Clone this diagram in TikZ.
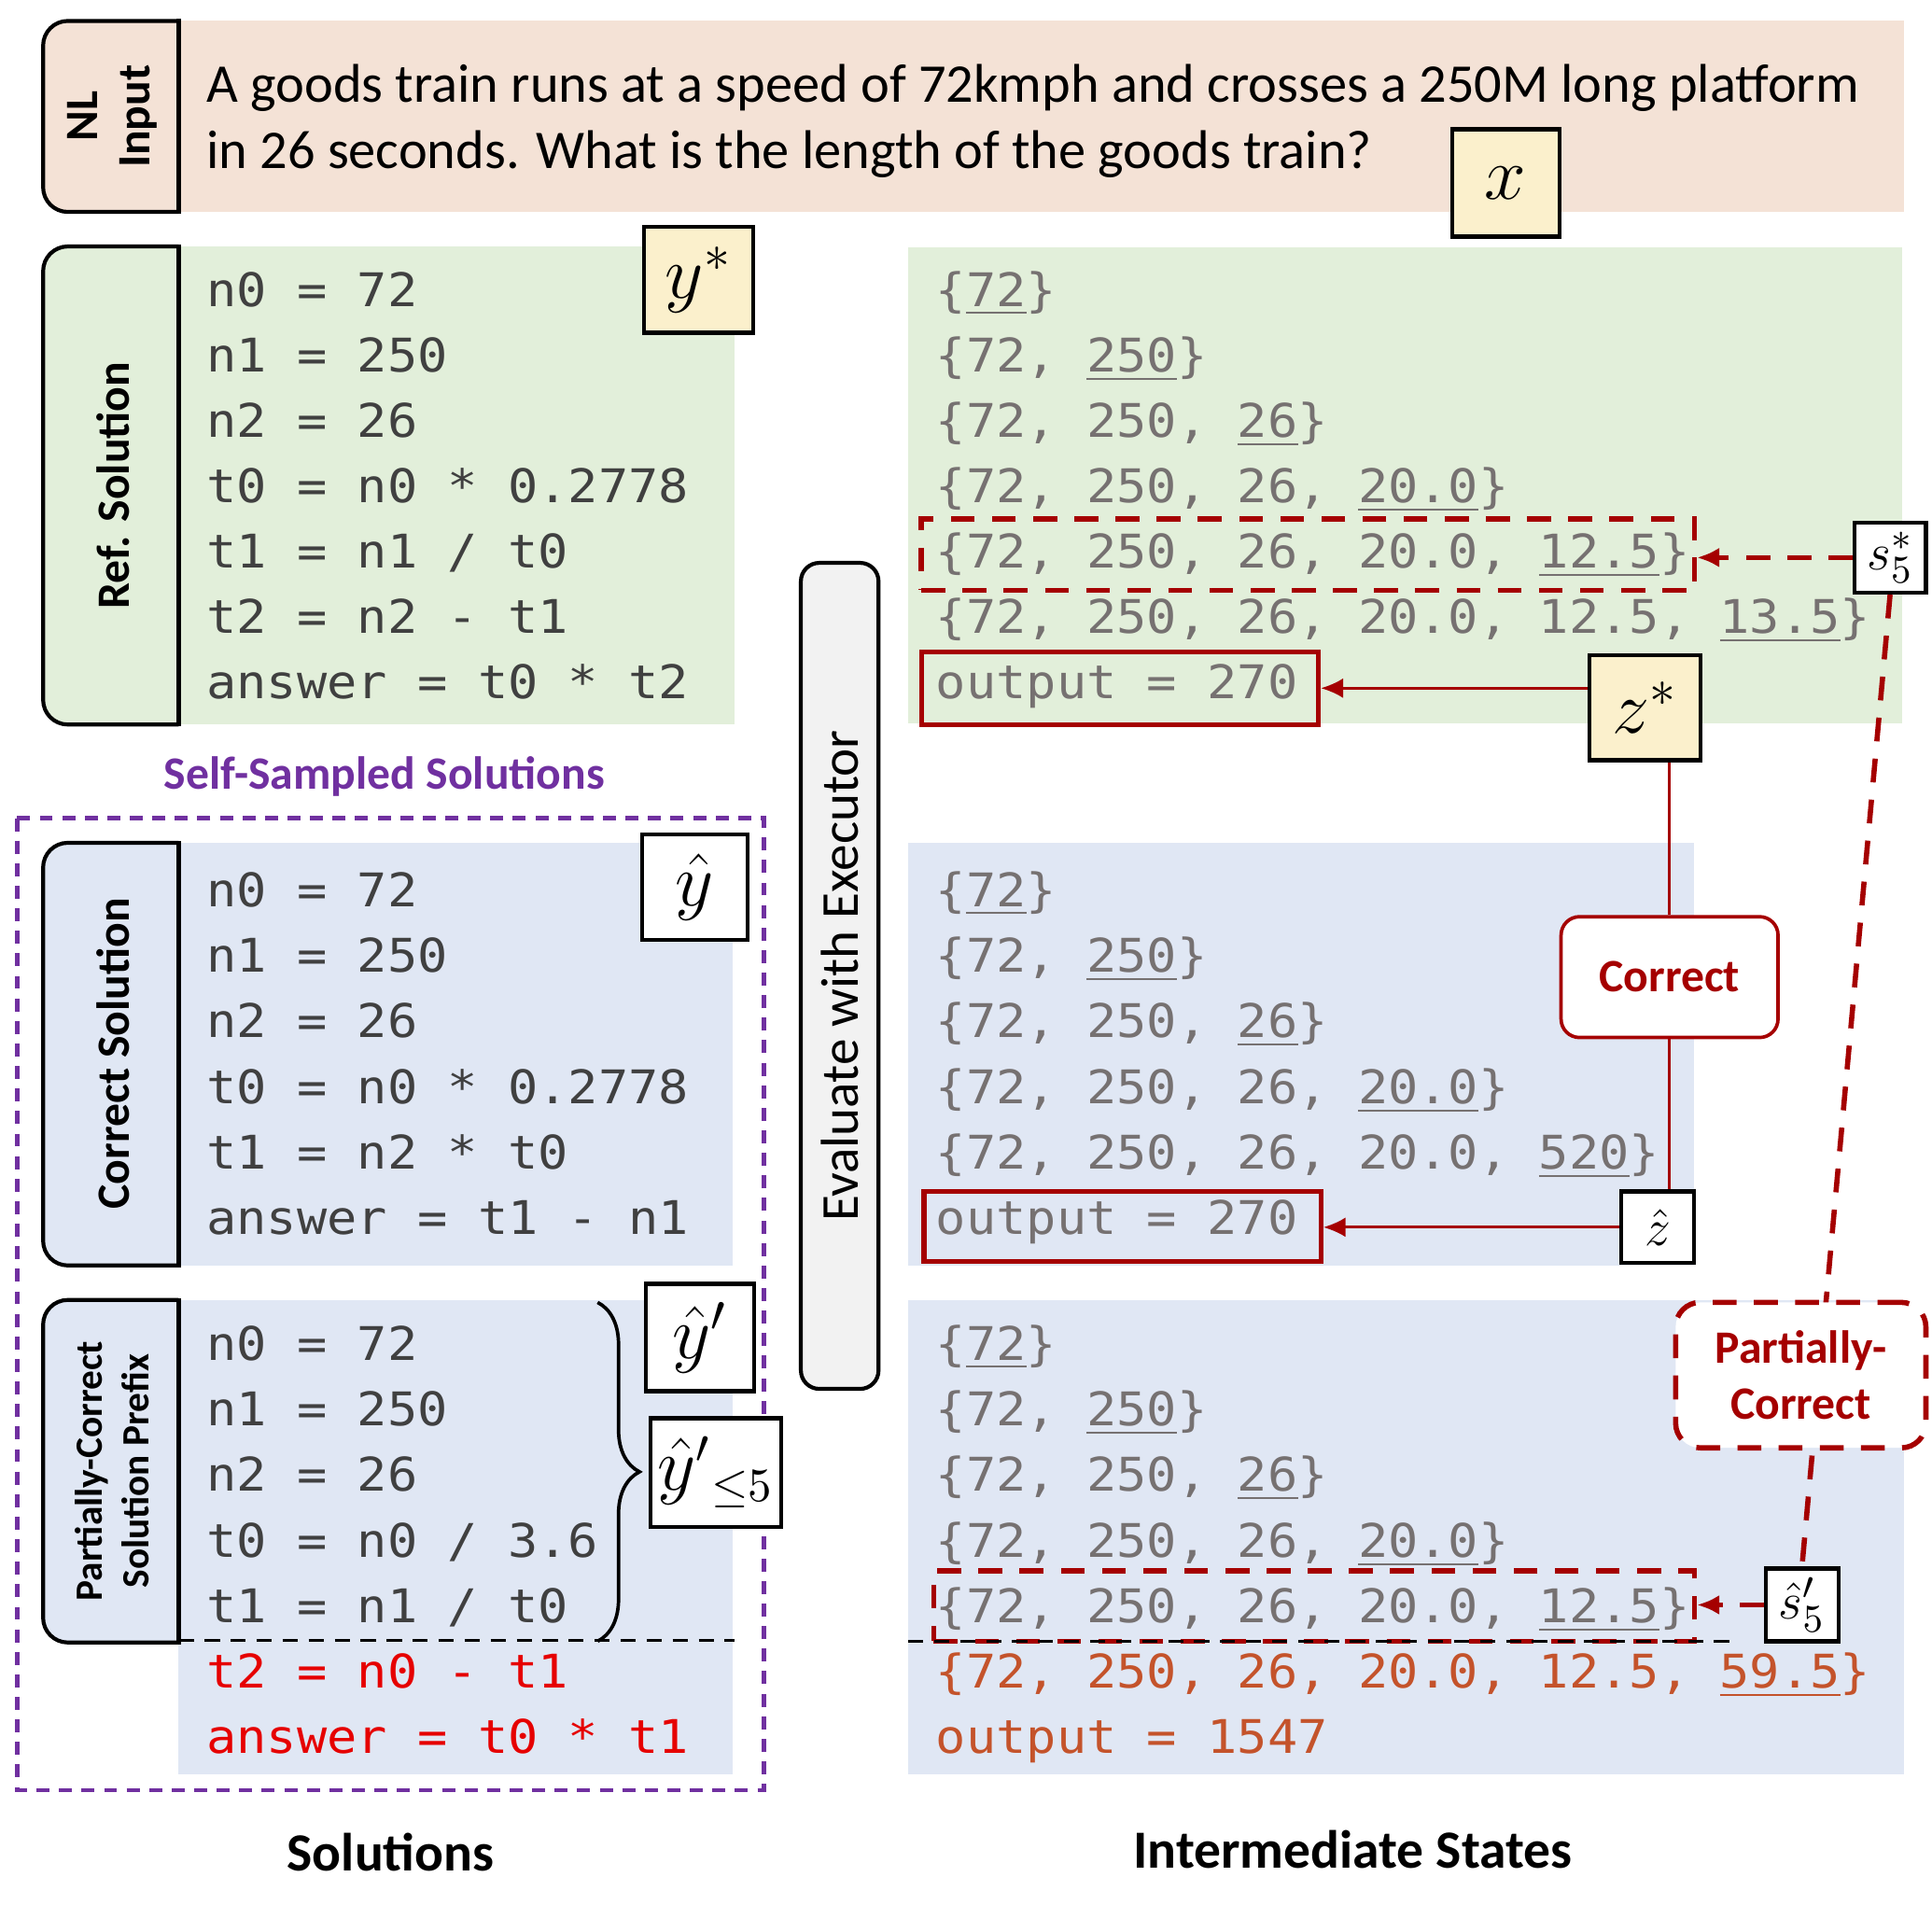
\documentclass[tikz,border=0pt]{standalone}
\usepackage{fontspec}
\setmainfont{Carlito}
\setmonofont[FakeStretch=1.08]{DejaVu Sans Mono}
\usetikzlibrary{arrows.meta, positioning, decorations.pathreplacing}

\definecolor{peach}{HTML}{F4E2D6}
\definecolor{lgreen}{HTML}{E2EFDA}
\definecolor{lblue}{HTML}{E0E7F4}
\definecolor{lyellow}{HTML}{FBF0CC}
\definecolor{dred}{HTML}{A50000}
\definecolor{codegray}{HTML}{404040}
\definecolor{stategray}{HTML}{767171}
\definecolor{errred}{HTML}{E60000}
\definecolor{errorange}{HTML}{C4532B}
\definecolor{ppurple}{HTML}{7030A0}
\definecolor{evalgray}{HTML}{F2F2F2}

\newcommand{\codefont}{\fontsize{10.7}{12}\ttfamily}

\begin{document}
\begin{tikzpicture}[x=0.01cm, y=-0.01cm,
  code/.style={anchor=base west, inner sep=0pt, font=\codefont, text=codegray},
  state/.style={anchor=base west, inner sep=0pt, font=\codefont, text=stategray},
  tabline/.style={line width=0.9pt, rounded corners=0.2cm},
  tablabel/.style={rotate=90, align=center, inner sep=0pt, font=\fontsize{10.7}{12}\selectfont\bfseries},
  symbox/.style={draw=black, line width=0.9pt, inner sep=0pt, font=\fontsize{18}{20}\selectfont},
  smallbox/.style={symbox, fill=white, font=\fontsize{13}{15}\selectfont},
  redline/.style={draw=dred, line width=0.6pt},
  redarrow/.style={redline, -{Latex[length=0.18cm, width=0.16cm]}},
  reddash/.style={draw=dred, line width=1.2pt, dash pattern=on 5.5pt off 4pt},
  pickbox/.style={reddash, inner sep=0pt},
  outbox/.style={draw=dred, line width=1.1pt, inner sep=0pt},
  sepline/.style={draw=black, line width=0.6pt, dash pattern=on 3.5pt off 2.5pt},
  headlabel/.style={inner sep=0pt, font=\fontsize{12.4}{14}\selectfont\bfseries}
]
\useasboundingbox (0,0) rectangle (1568,1546);

% 底色块
\fill[peach] (145,17) rectangle (1545,172);
\fill[lgreen] (145,200) rectangle (596,588);
\fill[lblue] (145,684) rectangle (595,1027);
\fill[lblue] (145,1055) rectangle (595,1440);
\fill[lgreen] (737,201) rectangle (1544,587);
\fill[lblue] (737,684) rectangle (1375,1027);
\fill[lblue] (737,1055) rectangle (1545,1440);

% 左侧标签页（只有左边两个角是圆的）
\filldraw[tabline, fill=peach] (145,17) -- (35,17) -- (35,172) -- (145,172);
\draw[line width=0.9pt, line cap=rect] (145,17) -- (145,172);
\filldraw[tabline, fill=lgreen] (145,200) -- (35,200) -- (35,588) -- (145,588);
\draw[line width=0.9pt, line cap=rect] (145,200) -- (145,588);
\filldraw[tabline, fill=lblue] (145,684) -- (35,684) -- (35,1027) -- (145,1027);
\draw[line width=0.9pt, line cap=rect] (145,684) -- (145,1027);
\filldraw[tabline, fill=lblue] (145,1055) -- (35,1055) -- (35,1333) -- (145,1333);
\draw[line width=0.9pt, line cap=rect] (145,1055) -- (145,1333);

\node[tablabel] (nllabel) at (91,94.5) {NL\\Input};
\node[tablabel] (reflabel) at (92,394) {Ref. Solution};
\node[tablabel] (corlabel) at (92,855) {Correct Solution};
\node[tablabel, font=\fontsize{8.9}{10.8}\selectfont\bfseries] (parlabel) at (91,1194) {Partially-Correct\\Solution Prefix};

% 题目文本
\node[anchor=base west, inner sep=0pt, font=\fontsize{12.58}{14}\selectfont] (nl1) at (167,83)
  {A goods train runs at a speed of 72kmph and crosses a 250M long platform};
\node[anchor=base west, inner sep=0pt, font=\fontsize{12.58}{14}\selectfont] (nl2) at (167,137)
  {in 26 seconds. What is the length of the goods train?};

% 执行器
\node[draw=black, line width=0.9pt, fill=evalgray, rounded corners=0.15cm, rotate=90,
  minimum width=6.70cm, minimum height=0.63cm, inner sep=0pt,
  font=\fontsize{12.3}{14}\selectfont] (eval) at (681.5,792) {Evaluate with Executor};

% 自采样解的虚线框
\node[inner sep=0pt, text=ppurple, font=\fontsize{10.7}{12}\selectfont\bfseries] (selflabel) at (312,630) {Self-Sampled Solutions};
\draw[ppurple, line width=0.9pt, dash pattern=on 3pt off 2.2pt] (14,664) rectangle (620,1453);

% 参考解
\node[code] (r1) at (167,249) {n0 = 72};
\node[code] (r2) at (167,302) {n1 = 250};
\node[code] (r3) at (167,355) {n2 = 26};
\node[code] (r4) at (167,408) {t0 = n0 * 0.2778};
\node[code] (r5) at (167,461) {t1 = n1 / t0};
\node[code] (r6) at (167,514) {t2 = n2 - t1};
\node[code] (r7) at (167,567) {answer = t0 * t2};

% 正确解
\node[code] (c1) at (167,736) {n0 = 72};
\node[code] (c2) at (167,789) {n1 = 250};
\node[code] (c3) at (167,842) {n2 = 26};
\node[code] (c4) at (167,896) {t0 = n0 * 0.2778};
\node[code] (c5) at (167,949) {t1 = n2 * t0};
\node[code] (c6) at (167,1002) {answer = t1 - n1};

% 部分正确解（最后两行为红色）
\node[code] (p1) at (167,1104) {n0 = 72};
\node[code] (p2) at (167,1157) {n1 = 250};
\node[code] (p3) at (167,1210) {n2 = 26};
\node[code] (p4) at (167,1264) {t0 = n0 / 3.6};
\node[code] (p5) at (167,1317) {t1 = n1 / t0};
\node[code, text=errred] (p6) at (167,1370) {t2 = n0 - t1};
\node[code, text=errred] (p7) at (167,1423) {answer = t0 * t1};

% 中间状态：参考解
\node[state] (g1) at (759,249) {\{\underline{72}\}};
\node[state] (g2) at (759,302) {\{72, \underline{250}\}};
\node[state] (g3) at (759,355) {\{72, 250, \underline{26}\}};
\node[state] (g4) at (759,408) {\{72, 250, 26, \underline{20.0}\}};
\node[state] (g5) at (759,461) {\{72, 250, 26, 20.0, \underline{12.5}\}};
\node[state] (g6) at (759,514) {\{72, 250, 26, 20.0, 12.5, \underline{13.5}\}};
\node[state] (g7) at (759,567) {output = 270};

% 中间状态：正确解
\node[state] (b1) at (759,736) {\{\underline{72}\}};
\node[state] (b2) at (759,789) {\{72, \underline{250}\}};
\node[state] (b3) at (759,842) {\{72, 250, \underline{26}\}};
\node[state] (b4) at (759,896) {\{72, 250, 26, \underline{20.0}\}};
\node[state] (b5) at (759,949) {\{72, 250, 26, 20.0, \underline{520}\}};
\node[state] (b6) at (759,1002) {output = 270};

% 中间状态：部分正确解
\node[state] (q1) at (759,1104) {\{\underline{72}\}};
\node[state] (q2) at (759,1157) {\{72, \underline{250}\}};
\node[state] (q3) at (759,1210) {\{72, 250, \underline{26}\}};
\node[state] (q4) at (759,1264) {\{72, 250, 26, \underline{20.0}\}};
\node[state] (q5) at (759,1317) {\{72, 250, 26, 20.0, \underline{12.5}\}};
\node[state, text=errorange] (q6) at (759,1370) {\{72, 250, 26, 20.0, 12.5, \underline{59.5}\}};
\node[state, text=errorange] (q7) at (759,1423) {output = 1547};

% 红色框
\node[pickbox, minimum width=6.27cm, minimum height=0.58cm] (pickref) at (1061.5,450) {};
\node[pickbox, minimum width=6.17cm, minimum height=0.57cm] (pickpart) at (1066.5,1303.5) {};
\node[outbox, minimum width=3.22cm, minimum height=0.59cm] (outref) at (909,558.5) {};
\node[outbox, minimum width=3.22cm, minimum height=0.57cm] (outcor) at (911,995.5) {};

% 前缀分界虚线
\draw[sepline] (145,1331) -- (596,1331);
\draw[sepline] (737,1332) -- (1411,1332);

% 前缀的大括号
\draw[line width=0.8pt, decorate, decoration={brace, amplitude=0.34cm}] (485,1057) -- (485,1332);

% 符号小框
\node[symbox, fill=lyellow, minimum width=0.87cm, minimum height=0.87cm] (xbox) at (1222,148.5) {$x$};
\node[symbox, fill=lyellow, minimum width=0.88cm, minimum height=0.86cm] (ystar) at (567,227) {$y^*$};
\node[symbox, fill=lyellow, minimum width=0.90cm, minimum height=0.85cm] (zstar) at (1335,574.5) {$z^*$};
\node[symbox, fill=white, minimum width=0.86cm, minimum height=0.86cm] (yhat) at (564,720) {$\hat{y}$};
\node[symbox, fill=white, minimum width=0.88cm, minimum height=0.87cm] (yprime) at (568,1085.5) {$\hat{y}'$};
\node[symbox, fill=white, minimum width=1.06cm, minimum height=0.88cm, font=\fontsize{16}{18}\selectfont] (yle) at (581,1195) {$\hat{y}'{}_{\leq 5}$};
\node[smallbox, minimum width=0.58cm, minimum height=0.57cm] (sstar) at (1534,452.5) {$s_5^*$};
\node[smallbox, minimum width=0.59cm, minimum height=0.58cm] (zhat) at (1345.5,996) {$\hat{z}$};
\node[smallbox, minimum width=0.59cm, minimum height=0.59cm] (sprime) at (1462.5,1302.5) {$\hat{s}'_5$};

% 判定框：正确
\node[draw=dred, line width=0.8pt, fill=white, rounded corners=0.15cm, minimum width=1.76cm,
  minimum height=0.98cm, inner sep=0pt, text=dred, font=\fontsize{10.7}{12}\selectfont\bfseries]
  (correct) at (1355,793) {Correct};

% 连线
\draw[redarrow] (outref.east -| zstar.west) -- (outref.east);
\draw[redline] (correct.north |- zstar.south) -- (correct.north);
\draw[redline] (correct.south) -- (correct.south |- zhat.north);
\draw[redarrow] (zhat.west) -- (zhat.west -| outcor.east);
\draw[reddash, -{Latex[length=0.18cm, width=0.16cm]}] (sstar.west) -- (sstar.west -| pickref.east);
\draw[reddash, -{Latex[length=0.18cm, width=0.16cm]}] (sprime.west) -- (sprime.west -| pickpart.east);
\draw[reddash] (sstar.south) -- (sprime.north);

% 判定框：部分正确（盖住虚线）
\node[reddash, fill=white, rounded corners=0.2cm, minimum width=2.03cm, minimum height=1.18cm,
  inner sep=0pt, align=center, text=dred, font=\fontsize{10.7}{13}\selectfont\bfseries]
  (partial) at (1461.5,1116) {Partially-\\Correct};

% 底部标题
\node[headlabel] (sollabel) at (317,1503) {Solutions};
\node[headlabel] (statelabel) at (1098,1501) {Intermediate States};

\end{tikzpicture}
\end{document}
